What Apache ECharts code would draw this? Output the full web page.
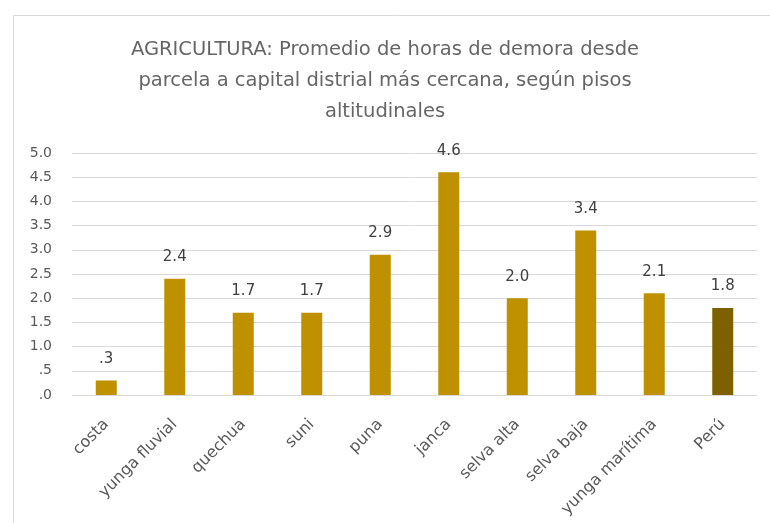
<!DOCTYPE html>
<html>
<head>
<meta charset="utf-8">
<script src="https://cdn.jsdelivr.net/npm/echarts@6/dist/echarts.min.js"></script>
<style>
  html, body { margin: 0; padding: 0; background: #fff; }
  #chart { width: 770px; height: 523px; }
</style>
</head>
<body>
<div id="chart"></div>
<script>
// Altitude zones and average hours from plot to the nearest district capital
const categories = ['costa', 'yunga fluvial', 'quechua', 'suni', 'puna', 'janca',
                    'selva alta', 'selva baja', 'yunga marítima', 'Perú'];
const hours = [0.3, 2.4, 1.7, 1.7, 2.9, 4.6, 2.0, 3.4, 2.1, 1.8];
const yTicks = [0, 0.5, 1, 1.5, 2, 2.5, 3, 3.5, 4, 4.5, 5];

const GOLD = '#BF9000';
const GOLD_DARK = '#7F6000';
const TEXT = '#595959';
const FONT = '"DejaVu Sans", "Open Sans", sans-serif';

// Excel-style number format: drop the leading zero (".3", ".0")
function fmt(v) {
  const s = Number(v).toFixed(1);
  return s.startsWith('0.') ? s.slice(1) : s;
}

const chart = echarts.init(document.getElementById('chart'), null, { renderer: 'canvas' });

chart.setOption({
  backgroundColor: '#ffffff',
  animation: false,
  title: {
    text: 'AGRICULTURA: Promedio de horas de demora desde\nparcela a capital distrial más cercana, según pisos\naltitudinales',
    left: 'center',
    top: 29,
    textStyle: {
      fontFamily: FONT,
      fontSize: 19.5,
      fontWeight: 'normal',
      color: '#666666',
      lineHeight: 31,
      align: 'center'
    }
  },
  graphic: [{
    type: 'rect',
    shape: { x: 13.5, y: 15.5, width: 770, height: 530 },
    style: { fill: 'none', stroke: '#d9d9d9', lineWidth: 1 },
    silent: true,
    z: -1
  }],
  grid: { left: 72, right: 13, top: 153, bottom: 128 },
  xAxis: {
    type: 'category',
    data: categories,
    axisLine: { show: true, lineStyle: { color: '#d9d9d9' } },
    axisTick: { show: false },
    axisLabel: {
      rotate: 45,
      interval: 0,
      margin: 27,
      color: TEXT,
      fontFamily: FONT,
      fontSize: 16
    }
  },
  yAxis: {
    type: 'value',
    min: yTicks[0],
    max: yTicks[yTicks.length - 1],
    interval: 0.5,
    axisLine: { show: false },
    axisTick: { show: false },
    splitLine: { lineStyle: { color: '#d9d9d9', width: 1 } },
    axisLabel: {
      margin: 20,
      color: TEXT,
      fontFamily: FONT,
      fontSize: 14,
      formatter: fmt
    }
  },
  series: [{
    type: 'bar',
    data: hours.map((v, i) => ({
      value: v,
      itemStyle: { color: i === hours.length - 1 ? GOLD_DARK : GOLD }
    })),
    barWidth: 21,
    label: {
      show: true,
      position: 'top',
      distance: 14,
      color: '#404040',
      fontFamily: FONT,
      fontSize: 15,
      formatter: p => fmt(p.value)
    }
  }]
});
</script>
</body>
</html>
